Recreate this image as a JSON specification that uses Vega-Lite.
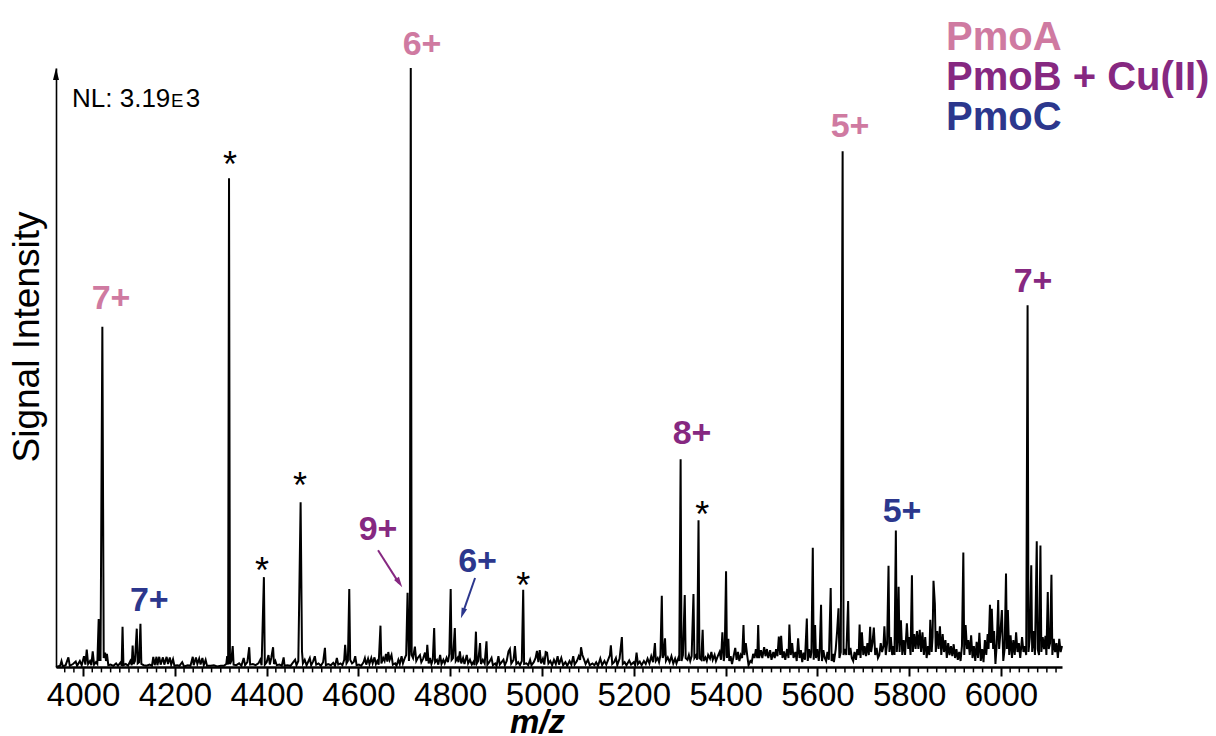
{
  "$schema": "https://vega.github.io/schema/vega-lite/v6.json",
  "width": 1006,
  "height": 599,
  "autosize": {"type": "none"},
  "padding": {"left": 56, "top": 68, "right": 154, "bottom": 69},
  "background": "white",
  "config": {
    "view": {"stroke": null},
    "font": "Liberation Sans",
    "axisY": {
      "titleFontSize": 37,
      "titleFontWeight": "normal",
      "titleColor": "black",
      "titleX": -17.5,
      "titleY": 268.5,
      "titleAngle": -90,
      "titleAlign": "center",
      "titleBaseline": "alphabetic",
      "ticks": false,
      "labels": false,
      "grid": false,
      "domainColor": "black",
      "domainWidth": 1.6
    }
  },
  "datasets": {
    "spectrum": [
      {"mz":3941,"i":0},{"mz":3950,"i":0.2},{"mz":3953,"i":1.0},{"mz":3956,"i":0.1},{"mz":3962,"i":0.3},{"mz":3968,"i":1.6},{"mz":3971,"i":0.2},{"mz":3978,"i":0.5},{"mz":3984,"i":0.9},{"mz":3987,"i":0.2},{"mz":3993,"i":1.0},{"mz":3997,"i":0.3},
      {"mz":4002,"i":1.8},{"mz":4005,"i":0.4},{"mz":4008,"i":2.9},{"mz":4011,"i":0.5},{"mz":4015,"i":1.0},{"mz":4018,"i":0.3},{"mz":4021,"i":2.6},{"mz":4024,"i":0.4},{"mz":4028,"i":0.8},{"mz":4031,"i":0.5},{"mz":4034,"i":8.0},{"mz":4035,"i":1.0},{"mz":4036,"i":7.0},{"mz":4038,"i":1.0},{"mz":4042,"i":56.8},{"mz":4045,"i":1.5},{"mz":4048,"i":2.4},{"mz":4050,"i":1.0},{"mz":4052,"i":2.2},{"mz":4055,"i":0.3},{"mz":4060,"i":0.4},{"mz":4066,"i":0.2},{"mz":4072,"i":0.6},{"mz":4076,"i":0.2},{"mz":4082,"i":0.8},{"mz":4084,"i":0.2},{"mz":4086,"i":6.7},{"mz":4088,"i":0.3},{"mz":4093,"i":0.5},{"mz":4098,"i":0.2},
      {"mz":4103,"i":1.0},{"mz":4106,"i":0.3},{"mz":4108,"i":3.6},{"mz":4110,"i":0.5},{"mz":4113,"i":1.0},{"mz":4117,"i":6.4},{"mz":4119,"i":0.6},{"mz":4122,"i":0.8},{"mz":4125,"i":7.2},{"mz":4127,"i":0.5},{"mz":4132,"i":0.3},{"mz":4138,"i":0.2},{"mz":4145,"i":0.4},{"mz":4150,"i":0.2},{"mz":4153,"i":1.7},{"mz":4156,"i":0.3},{"mz":4160,"i":1.7},{"mz":4162,"i":0.3},{"mz":4166,"i":1.7},{"mz":4169,"i":0.4},{"mz":4174,"i":1.6},{"mz":4177,"i":0.4},{"mz":4182,"i":1.7},{"mz":4185,"i":0.5},{"mz":4189,"i":1.6},{"mz":4192,"i":0.4},{"mz":4196,"i":1.3},{"mz":4199,"i":0.2},
      {"mz":4205,"i":0.3},{"mz":4210,"i":0.2},{"mz":4216,"i":0.8},{"mz":4220,"i":0.1},{"mz":4228,"i":0.3},{"mz":4234,"i":0.2},{"mz":4239,"i":1.7},{"mz":4241,"i":0.3},{"mz":4246,"i":1.6},{"mz":4249,"i":0.5},{"mz":4253,"i":1.4},{"mz":4256,"i":0.4},{"mz":4260,"i":1.5},{"mz":4263,"i":0.3},{"mz":4267,"i":1.2},{"mz":4270,"i":0.2},{"mz":4278,"i":0.2},{"mz":4285,"i":0.3},{"mz":4292,"i":0.1},
      {"mz":4300,"i":0.2},{"mz":4307,"i":0.2},{"mz":4312,"i":0.5},{"mz":4314,"i":1.8},{"mz":4316,"i":0.4},{"mz":4318,"i":81.6},{"mz":4320,"i":0.5},{"mz":4323,"i":1.0},{"mz":4326,"i":3.5},{"mz":4328,"i":0.4},{"mz":4334,"i":0.3},{"mz":4340,"i":0.6},{"mz":4345,"i":0.2},{"mz":4350,"i":1.5},{"mz":4353,"i":0.3},{"mz":4358,"i":0.8},{"mz":4362,"i":3.3},{"mz":4364,"i":0.4},{"mz":4370,"i":0.5},{"mz":4376,"i":0.3},{"mz":4382,"i":0.6},{"mz":4386,"i":1.2},{"mz":4389,"i":0.3},{"mz":4394,"i":15.0},{"mz":4396,"i":0.4},
      {"mz":4400,"i":0.8},{"mz":4404,"i":2.0},{"mz":4407,"i":0.4},{"mz":4410,"i":1.5},{"mz":4414,"i":3.3},{"mz":4416,"i":0.5},{"mz":4419,"i":1.0},{"mz":4422,"i":0.3},{"mz":4428,"i":0.4},{"mz":4433,"i":0.2},{"mz":4437,"i":1.6},{"mz":4439,"i":0.2},{"mz":4445,"i":0.3},{"mz":4452,"i":0.2},{"mz":4458,"i":0.8},{"mz":4462,"i":1.2},{"mz":4465,"i":0.3},{"mz":4469,"i":1.0},{"mz":4474,"i":27.5},{"mz":4477,"i":2.6},{"mz":4479,"i":0.6},{"mz":4483,"i":1.2},{"mz":4487,"i":0.3},{"mz":4490,"i":0.8},{"mz":4494,"i":1.5},{"mz":4497,"i":0.3},
      {"mz":4501,"i":0.9},{"mz":4505,"i":1.8},{"mz":4508,"i":0.4},{"mz":4513,"i":0.6},{"mz":4518,"i":0.2},{"mz":4523,"i":0.8},{"mz":4527,"i":3.2},{"mz":4529,"i":0.3},{"mz":4534,"i":0.5},{"mz":4540,"i":0.3},{"mz":4545,"i":0.7},{"mz":4549,"i":0.2},{"mz":4553,"i":1.5},{"mz":4556,"i":0.4},{"mz":4561,"i":0.6},{"mz":4565,"i":0.3},{"mz":4569,"i":1.2},{"mz":4571,"i":3.7},{"mz":4574,"i":0.6},{"mz":4577,"i":1.0},{"mz":4580,"i":13.0},{"mz":4582,"i":1.2},{"mz":4586,"i":0.6},{"mz":4590,"i":0.9},{"mz":4593,"i":1.8},{"mz":4596,"i":0.3},
      {"mz":4601,"i":0.4},{"mz":4606,"i":0.2},{"mz":4611,"i":0.8},{"mz":4614,"i":1.5},{"mz":4617,"i":0.4},{"mz":4621,"i":1.4},{"mz":4624,"i":0.5},{"mz":4628,"i":1.5},{"mz":4631,"i":0.6},{"mz":4635,"i":1.6},{"mz":4638,"i":0.5},{"mz":4641,"i":1.0},{"mz":4644,"i":0.4},{"mz":4648,"i":6.9},{"mz":4650,"i":0.6},{"mz":4654,"i":1.5},{"mz":4657,"i":1.0},{"mz":4660,"i":2.2},{"mz":4663,"i":0.9},{"mz":4665,"i":2.5},{"mz":4668,"i":1.2},{"mz":4672,"i":2.0},{"mz":4675,"i":0.4},{"mz":4680,"i":0.6},{"mz":4683,"i":0.2},{"mz":4687,"i":1.2},{"mz":4690,"i":0.5},{"mz":4694,"i":1.8},{"mz":4697,"i":0.6},
      {"mz":4701,"i":1.5},{"mz":4704,"i":2.0},{"mz":4707,"i":12.4},{"mz":4710,"i":1.0},{"mz":4712,"i":3.0},{"mz":4714,"i":100},{"mz":4716,"i":2.0},{"mz":4719,"i":1.5},{"mz":4723,"i":3.4},{"mz":4726,"i":1.0},{"mz":4730,"i":1.6},{"mz":4734,"i":2.0},{"mz":4737,"i":0.8},{"mz":4741,"i":1.4},{"mz":4745,"i":2.4},{"mz":4748,"i":1.0},{"mz":4750,"i":3.7},{"mz":4753,"i":0.6},{"mz":4756,"i":1.5},{"mz":4759,"i":0.5},{"mz":4762,"i":1.2},{"mz":4765,"i":6.5},{"mz":4767,"i":0.8},{"mz":4771,"i":1.2},{"mz":4774,"i":0.4},{"mz":4778,"i":2.0},{"mz":4781,"i":0.5},{"mz":4785,"i":1.2},{"mz":4788,"i":0.6},{"mz":4792,"i":1.5},{"mz":4795,"i":0.8},{"mz":4798,"i":2.2},
      {"mz":4801,"i":13.0},{"mz":4803,"i":1.2},{"mz":4806,"i":1.5},{"mz":4810,"i":6.5},{"mz":4812,"i":1.0},{"mz":4816,"i":1.5},{"mz":4818,"i":0.8},{"mz":4821,"i":2.6},{"mz":4824,"i":0.6},{"mz":4828,"i":1.5},{"mz":4831,"i":0.5},{"mz":4836,"i":2.0},{"mz":4839,"i":0.6},{"mz":4843,"i":1.2},{"mz":4847,"i":0.4},{"mz":4851,"i":0.9},{"mz":4853,"i":0.3},{"mz":4856,"i":5.9},{"mz":4858,"i":0.6},{"mz":4861,"i":1.0},{"mz":4865,"i":4.0},{"mz":4867,"i":0.5},{"mz":4871,"i":1.2},{"mz":4875,"i":0.6},{"mz":4879,"i":4.3},{"mz":4881,"i":0.4},{"mz":4885,"i":0.8},{"mz":4890,"i":1.5},{"mz":4893,"i":0.3},{"mz":4898,"i":0.6},
      {"mz":4901,"i":0.2},{"mz":4905,"i":1.8},{"mz":4908,"i":0.4},{"mz":4912,"i":0.8},{"mz":4916,"i":1.2},{"mz":4919,"i":0.3},{"mz":4923,"i":1.0},{"mz":4927,"i":2.6},{"mz":4930,"i":3.0},{"mz":4933,"i":0.6},{"mz":4938,"i":1.2},{"mz":4941,"i":3.5},{"mz":4944,"i":0.5},{"mz":4948,"i":0.8},{"mz":4952,"i":0.3},{"mz":4956,"i":1.0},{"mz":4959,"i":12.9},{"mz":4961,"i":0.5},{"mz":4966,"i":0.6},{"mz":4970,"i":0.3},{"mz":4974,"i":1.2},{"mz":4977,"i":0.3},{"mz":4982,"i":0.8},{"mz":4986,"i":1.5},{"mz":4989,"i":2.7},{"mz":4992,"i":0.8},{"mz":4995,"i":2.8},{"mz":4998,"i":0.6},
      {"mz":5002,"i":1.4},{"mz":5005,"i":0.4},{"mz":5008,"i":2.5},{"mz":5011,"i":2.4},{"mz":5014,"i":0.6},{"mz":5018,"i":1.0},{"mz":5022,"i":0.3},{"mz":5026,"i":1.2},{"mz":5030,"i":0.5},{"mz":5034,"i":1.8},{"mz":5037,"i":0.4},{"mz":5042,"i":1.5},{"mz":5046,"i":0.3},{"mz":5051,"i":0.8},{"mz":5055,"i":0.2},{"mz":5060,"i":1.0},{"mz":5064,"i":0.4},{"mz":5068,"i":1.8},{"mz":5071,"i":0.4},{"mz":5076,"i":1.0},{"mz":5080,"i":1.8},{"mz":5083,"i":1.2},{"mz":5085,"i":3.3},{"mz":5088,"i":2.0},{"mz":5091,"i":1.4},{"mz":5095,"i":0.5},
      {"mz":5100,"i":1.2},{"mz":5104,"i":0.3},{"mz":5110,"i":0.6},{"mz":5114,"i":0.3},{"mz":5118,"i":0.8},{"mz":5122,"i":0.2},{"mz":5127,"i":1.4},{"mz":5131,"i":0.3},{"mz":5136,"i":1.0},{"mz":5140,"i":0.4},{"mz":5144,"i":1.2},{"mz":5148,"i":2.0},{"mz":5150,"i":3.6},{"mz":5153,"i":0.5},{"mz":5157,"i":0.8},{"mz":5161,"i":1.5},{"mz":5164,"i":0.3},{"mz":5169,"i":1.4},{"mz":5174,"i":5.0},{"mz":5176,"i":0.5},{"mz":5180,"i":0.8},{"mz":5184,"i":0.3},{"mz":5190,"i":1.1},{"mz":5194,"i":0.4},
      {"mz":5200,"i":0.8},{"mz":5203,"i":0.3},{"mz":5206,"i":2.4},{"mz":5209,"i":0.5},{"mz":5213,"i":0.9},{"mz":5217,"i":0.3},{"mz":5222,"i":1.0},{"mz":5226,"i":0.5},{"mz":5230,"i":1.4},{"mz":5234,"i":0.6},{"mz":5238,"i":1.8},{"mz":5242,"i":0.8},{"mz":5246,"i":4.0},{"mz":5248,"i":1.0},{"mz":5252,"i":1.5},{"mz":5255,"i":0.8},{"mz":5258,"i":2.0},{"mz":5261,"i":11.9},{"mz":5263,"i":1.5},{"mz":5265,"i":2.0},{"mz":5268,"i":4.8},{"mz":5270,"i":1.0},{"mz":5274,"i":1.6},{"mz":5278,"i":0.8},{"mz":5282,"i":1.8},{"mz":5286,"i":0.6},{"mz":5290,"i":1.4},{"mz":5293,"i":0.6},{"mz":5297,"i":1.5},{"mz":5299,"i":1.0},
      {"mz":5302,"i":34.7},{"mz":5304,"i":1.0},{"mz":5307,"i":2.0},{"mz":5311,"i":12.0},{"mz":5313,"i":1.5},{"mz":5317,"i":1.2},{"mz":5320,"i":2.0},{"mz":5323,"i":1.0},{"mz":5326,"i":1.8},{"mz":5330,"i":12.2},{"mz":5332,"i":1.5},{"mz":5336,"i":2.0},{"mz":5338,"i":1.2},{"mz":5341,"i":24.5},{"mz":5343,"i":1.5},{"mz":5347,"i":1.2},{"mz":5350,"i":6.2},{"mz":5352,"i":1.0},{"mz":5356,"i":1.6},{"mz":5359,"i":1.0},{"mz":5362,"i":2.0},{"mz":5366,"i":1.4},{"mz":5369,"i":2.5},{"mz":5372,"i":1.2},{"mz":5376,"i":2.0},{"mz":5379,"i":1.0},{"mz":5383,"i":1.8},{"mz":5387,"i":2.5},{"mz":5390,"i":1.2},{"mz":5393,"i":5.8},{"mz":5396,"i":1.0},{"mz":5398,"i":2.0},
      {"mz":5401,"i":16.0},{"mz":5403,"i":1.5},{"mz":5406,"i":4.7},{"mz":5408,"i":1.0},{"mz":5411,"i":1.8},{"mz":5414,"i":0.5},{"mz":5418,"i":2.0},{"mz":5421,"i":3.2},{"mz":5424,"i":1.2},{"mz":5427,"i":2.5},{"mz":5430,"i":1.0},{"mz":5433,"i":2.0},{"mz":5436,"i":1.5},{"mz":5439,"i":7.0},{"mz":5441,"i":2.0},{"mz":5444,"i":4.0},{"mz":5447,"i":2.0},{"mz":5450,"i":0.3},{"mz":5454,"i":1.0},{"mz":5457,"i":0.8},{"mz":5460,"i":2.2},{"mz":5463,"i":1.5},{"mz":5466,"i":3.0},{"mz":5469,"i":1.5},{"mz":5471,"i":7.0},{"mz":5473,"i":1.5},{"mz":5477,"i":2.8},{"mz":5480,"i":1.5},{"mz":5484,"i":3.3},{"mz":5487,"i":1.8},{"mz":5490,"i":3.0},{"mz":5493,"i":1.5},{"mz":5497,"i":2.8},
      {"mz":5500,"i":1.2},{"mz":5504,"i":2.5},{"mz":5507,"i":1.5},{"mz":5510,"i":3.0},{"mz":5513,"i":1.8},{"mz":5516,"i":5.1},{"mz":5519,"i":2.0},{"mz":5521,"i":5.2},{"mz":5524,"i":1.5},{"mz":5527,"i":2.6},{"mz":5530,"i":1.2},{"mz":5534,"i":3.0},{"mz":5537,"i":1.5},{"mz":5539,"i":7.1},{"mz":5542,"i":2.0},{"mz":5545,"i":4.0},{"mz":5548,"i":1.5},{"mz":5552,"i":2.5},{"mz":5555,"i":1.0},{"mz":5558,"i":4.8},{"mz":5561,"i":1.5},{"mz":5564,"i":2.8},{"mz":5567,"i":0.8},{"mz":5570,"i":2.4},{"mz":5573,"i":1.2},{"mz":5577,"i":8.1},{"mz":5579,"i":1.0},{"mz":5582,"i":3.0},{"mz":5585,"i":1.5},{"mz":5587,"i":2.5},{"mz":5590,"i":19.9},{"mz":5592,"i":1.2},{"mz":5595,"i":7.0},{"mz":5597,"i":1.5},
      {"mz":5600,"i":3.0},{"mz":5603,"i":1.0},{"mz":5605,"i":2.5},{"mz":5608,"i":10.4},{"mz":5610,"i":1.0},{"mz":5613,"i":2.8},{"mz":5616,"i":1.5},{"mz":5619,"i":1.0},{"mz":5622,"i":2.5},{"mz":5625,"i":1.2},{"mz":5629,"i":13.2},{"mz":5631,"i":1.0},{"mz":5634,"i":2.2},{"mz":5636,"i":0.8},{"mz":5640,"i":3.0},{"mz":5643,"i":6.0},{"mz":5646,"i":9.8},{"mz":5648,"i":1.5},{"mz":5651,"i":2.5},{"mz":5655,"i":86.1},{"mz":5657,"i":2.0},{"mz":5660,"i":3.0},{"mz":5663,"i":2.0},{"mz":5667,"i":11.0},{"mz":5669,"i":2.0},{"mz":5672,"i":3.2},{"mz":5675,"i":1.5},{"mz":5678,"i":1.0},{"mz":5681,"i":2.5},{"mz":5684,"i":1.2},{"mz":5687,"i":3.0},{"mz":5690,"i":2.0},{"mz":5692,"i":7.1},{"mz":5694,"i":1.5},{"mz":5697,"i":5.8},
      {"mz":5700,"i":2.0},{"mz":5703,"i":3.5},{"mz":5706,"i":1.8},{"mz":5709,"i":4.0},{"mz":5712,"i":2.0},{"mz":5715,"i":6.7},{"mz":5717,"i":2.5},{"mz":5720,"i":4.0},{"mz":5723,"i":6.6},{"mz":5726,"i":2.0},{"mz":5729,"i":3.2},{"mz":5732,"i":1.5},{"mz":5735,"i":2.0},{"mz":5738,"i":4.0},{"mz":5741,"i":2.5},{"mz":5744,"i":3.5},{"mz":5746,"i":6.8},{"mz":5749,"i":2.0},{"mz":5752,"i":4.0},{"mz":5755,"i":16.9},{"mz":5757,"i":2.5},{"mz":5760,"i":5.0},{"mz":5763,"i":2.0},{"mz":5766,"i":3.5},{"mz":5768,"i":2.0},{"mz":5771,"i":22.8},{"mz":5773,"i":2.5},{"mz":5775,"i":5.0},{"mz":5777,"i":13.4},{"mz":5779,"i":2.5},{"mz":5782,"i":7.8},{"mz":5785,"i":2.0},{"mz":5788,"i":4.5},{"mz":5791,"i":2.0},{"mz":5795,"i":7.3},{"mz":5798,"i":3.0},
      {"mz":5800,"i":5.0},{"mz":5803,"i":2.0},{"mz":5806,"i":15.3},{"mz":5808,"i":2.5},{"mz":5811,"i":5.5},{"mz":5814,"i":3.0},{"mz":5817,"i":6.0},{"mz":5820,"i":3.0},{"mz":5823,"i":6.2},{"mz":5826,"i":2.5},{"mz":5829,"i":5.8},{"mz":5832,"i":2.0},{"mz":5835,"i":5.0},{"mz":5838,"i":1.5},{"mz":5841,"i":3.5},{"mz":5844,"i":2.0},{"mz":5846,"i":7.9},{"mz":5849,"i":2.5},{"mz":5851,"i":5.0},{"mz":5853,"i":14.4},{"mz":5856,"i":10.5},{"mz":5858,"i":2.5},{"mz":5861,"i":6.0},{"mz":5864,"i":3.0},{"mz":5867,"i":6.8},{"mz":5870,"i":2.0},{"mz":5873,"i":5.5},{"mz":5876,"i":2.5},{"mz":5879,"i":4.5},{"mz":5882,"i":1.5},{"mz":5885,"i":4.0},{"mz":5888,"i":2.0},{"mz":5891,"i":3.5},{"mz":5894,"i":1.8},{"mz":5897,"i":3.8},
      {"mz":5900,"i":1.5},{"mz":5903,"i":3.0},{"mz":5906,"i":1.2},{"mz":5909,"i":2.5},{"mz":5912,"i":1.0},{"mz":5915,"i":3.5},{"mz":5918,"i":19.1},{"mz":5920,"i":2.0},{"mz":5923,"i":7.0},{"mz":5926,"i":3.0},{"mz":5929,"i":4.5},{"mz":5932,"i":2.0},{"mz":5935,"i":5.3},{"mz":5938,"i":1.5},{"mz":5941,"i":3.5},{"mz":5944,"i":1.0},{"mz":5947,"i":4.2},{"mz":5950,"i":1.5},{"mz":5953,"i":5.7},{"mz":5956,"i":1.0},{"mz":5959,"i":3.0},{"mz":5962,"i":0.8},{"mz":5965,"i":4.5},{"mz":5968,"i":2.0},{"mz":5971,"i":5.5},{"mz":5973,"i":3.0},{"mz":5976,"i":10.4},{"mz":5978,"i":4.0},{"mz":5980,"i":9.7},{"mz":5983,"i":3.0},{"mz":5985,"i":6.0},{"mz":5988,"i":0.5},{"mz":5991,"i":4.0},{"mz":5994,"i":11.2},{"mz":5996,"i":3.0},{"mz":5999,"i":6.0},
      {"mz":6002,"i":9.5},{"mz":6005,"i":1.0},{"mz":6008,"i":3.0},{"mz":6011,"i":15.6},{"mz":6013,"i":3.0},{"mz":6015,"i":9.5},{"mz":6018,"i":2.0},{"mz":6021,"i":5.3},{"mz":6024,"i":1.5},{"mz":6027,"i":4.5},{"mz":6030,"i":2.0},{"mz":6033,"i":5.8},{"mz":6036,"i":2.5},{"mz":6039,"i":4.0},{"mz":6042,"i":1.5},{"mz":6046,"i":5.0},{"mz":6049,"i":2.5},{"mz":6052,"i":3.5},{"mz":6055,"i":2.0},{"mz":6058,"i":60.4},{"mz":6060,"i":2.5},{"mz":6063,"i":5.0},{"mz":6066,"i":17.0},{"mz":6068,"i":2.5},{"mz":6071,"i":6.0},{"mz":6074,"i":2.0},{"mz":6078,"i":21.0},{"mz":6080,"i":3.0},{"mz":6083,"i":2.0},{"mz":6086,"i":20.3},{"mz":6088,"i":2.5},{"mz":6091,"i":5.0},{"mz":6094,"i":3.0},{"mz":6097,"i":5.2},{"mz":6099,"i":2.0},
      {"mz":6102,"i":12.5},{"mz":6104,"i":3.0},{"mz":6107,"i":4.0},{"mz":6110,"i":15.4},{"mz":6112,"i":2.0},{"mz":6115,"i":4.7},{"mz":6118,"i":2.5},{"mz":6121,"i":4.0},{"mz":6124,"i":1.5},{"mz":6127,"i":4.7},{"mz":6130,"i":2.5},{"mz":6133,"i":3.5}
    ],
    "minorTicks": [
      {"t":3960},{"t":3980},{"t":4020},{"t":4040},{"t":4060},{"t":4080},{"t":4100},{"t":4120},{"t":4140},{"t":4160},{"t":4180},
      {"t":4220},{"t":4240},{"t":4260},{"t":4280},{"t":4300},{"t":4320},{"t":4340},{"t":4360},{"t":4380},
      {"t":4420},{"t":4440},{"t":4460},{"t":4480},{"t":4500},{"t":4520},{"t":4540},{"t":4560},{"t":4580},
      {"t":4620},{"t":4640},{"t":4660},{"t":4680},{"t":4700},{"t":4720},{"t":4740},{"t":4760},{"t":4780},
      {"t":4820},{"t":4840},{"t":4860},{"t":4880},{"t":4900},{"t":4920},{"t":4940},{"t":4960},{"t":4980},
      {"t":5020},{"t":5040},{"t":5060},{"t":5080},{"t":5100},{"t":5120},{"t":5140},{"t":5160},{"t":5180},
      {"t":5220},{"t":5240},{"t":5260},{"t":5280},{"t":5300},{"t":5320},{"t":5340},{"t":5360},{"t":5380},
      {"t":5420},{"t":5440},{"t":5460},{"t":5480},{"t":5500},{"t":5520},{"t":5540},{"t":5560},{"t":5580},
      {"t":5620},{"t":5640},{"t":5660},{"t":5680},{"t":5700},{"t":5720},{"t":5740},{"t":5760},{"t":5780},
      {"t":5820},{"t":5840},{"t":5860},{"t":5880},{"t":5900},{"t":5920},{"t":5940},{"t":5960},{"t":5980},
      {"t":6020},{"t":6040},{"t":6060},{"t":6080},{"t":6100},{"t":6120}
    ],
    "charges": [
      {"mz":4061,"i":59.8,"text":"7+","series":"PmoA"},
      {"mz":4738.6,"i":102.2,"text":"6+","series":"PmoA"},
      {"mz":5671.2,"i":88.5,"text":"5+","series":"PmoA"},
      {"mz":4642.7,"i":21.2,"text":"9+","series":"PmoB + Cu(II)"},
      {"mz":5326.9,"i":37.2,"text":"8+","series":"PmoB + Cu(II)"},
      {"mz":6070,"i":62.6,"text":"7+","series":"PmoB + Cu(II)"},
      {"mz":4144.3,"i":9.3,"text":"7+","series":"PmoC"},
      {"mz":4859.5,"i":15.9,"text":"6+","series":"PmoC"},
      {"mz":5784.5,"i":24.2,"text":"5+","series":"PmoC"}
    ],
    "stars": [
      {"mz":4320.2,"i":81.8},
      {"mz":4390,"i":14.0},
      {"mz":4472.7,"i":28.2},
      {"mz":4959.3,"i":11.5},
      {"mz":5349.4,"i":23.4}
    ],
    "legendText": [
      {"mz":5880.4,"i":103.0,"text":"PmoA","series":"PmoA"},
      {"mz":5880.4,"i":96.3,"text":"PmoB + Cu(II)","series":"PmoB + Cu(II)"},
      {"mz":5880.4,"i":89.6,"text":"PmoC","series":"PmoC"}
    ],
    "nlBig": [
      {"mz":3975.9,"i":93.5,"text":"NL: 3.19"},
      {"mz":4223.6,"i":93.5,"text":"3"}
    ],
    "nlSmall": [
      {"mz":4191.6,"i":93.5,"text":"E"}
    ],
    "arrows": [
      {"mz":4642.7,"i":19.5,"mz2":4688.4,"i2":14.0,"series":"PmoB + Cu(II)"},
      {"mz":4854.1,"i":14.86,"mz2":4827.1,"i2":8.96,"series":"PmoC"}
    ],
    "headPurple": [{"mz":4689.1,"i":14.06,"series":"PmoB + Cu(II)"}],
    "headBlue": [{"mz":4827.1,"i":8.96,"series":"PmoC"}],
    "yArrow": [{"mz":3941,"i":99.0}]
  },
  "layer": [
    {
      "data": {"name": "spectrum"},
      "mark": {"type": "line", "color": "black", "strokeWidth": 2, "strokeJoin": "miter", "strokeMiterLimit": 4},
      "encoding": {
        "x": {
          "field": "mz", "type": "quantitative",
          "scale": {"domain": [3941, 6133], "nice": false, "zero": false},
          "axis": {
            "orient": "bottom",
            "values": [4000, 4200, 4400, 4600, 4800, 5000, 5200, 5400, 5600, 5800, 6000],
            "format": "d",
            "title": "m/z",
            "titleFontStyle": "italic",
            "titleFontWeight": "bold",
            "titleFontSize": 33,
            "titleColor": "black",
            "titleX": 481,
            "titleY": 65,
            "titleAlign": "center",
            "titleBaseline": "alphabetic",
            "grid": false,
            "domainColor": "black",
            "domainWidth": 2.5,
            "tickColor": "black",
            "tickWidth": 2,
            "tickSize": 9,
            "labelFontSize": 33,
            "labelColor": "black",
            "labelPadding": 3.6,
            "labelFlush": false,
            "labelOverlap": false
          }
        },
        "y": {
          "field": "i", "type": "quantitative",
          "title": "Signal Intensity",
          "scale": {"domain": [0, 100], "nice": false, "zero": true}
        }
      }
    },
    {
      "data": {"name": "minorTicks"},
      "mark": {"type": "rule", "color": "black", "strokeWidth": 1.5},
      "encoding": {
        "x": {"field": "t", "type": "quantitative"},
        "y": {"datum": 0, "type": "quantitative"},
        "y2": {"datum": -0.9}
      }
    },
    {
      "data": {"name": "stars"},
      "mark": {"type": "text", "text": "*", "fontSize": 36, "color": "black", "align": "center", "baseline": "alphabetic"},
      "encoding": {
        "x": {"field": "mz", "type": "quantitative"},
        "y": {"field": "i", "type": "quantitative"}
      }
    },
    {
      "data": {"name": "charges"},
      "mark": {"type": "text", "fontSize": 34, "fontWeight": "bold", "align": "center", "baseline": "alphabetic"},
      "encoding": {
        "x": {"field": "mz", "type": "quantitative"},
        "y": {"field": "i", "type": "quantitative"},
        "text": {"field": "text"},
        "color": {"field": "series", "type": "nominal", "legend": null,
          "scale": {"domain": ["PmoA", "PmoB + Cu(II)", "PmoC"], "range": ["#cf7aa1", "#862881", "#2c378d"]}}
      }
    },
    {
      "data": {"name": "legendText"},
      "mark": {"type": "text", "fontSize": 40, "fontWeight": "bold", "align": "left", "baseline": "alphabetic"},
      "encoding": {
        "x": {"field": "mz", "type": "quantitative"},
        "y": {"field": "i", "type": "quantitative"},
        "text": {"field": "text"},
        "color": {"field": "series", "type": "nominal", "legend": null}
      }
    },
    {
      "data": {"name": "nlBig"},
      "mark": {"type": "text", "fontSize": 26, "color": "black", "align": "left", "baseline": "alphabetic"},
      "encoding": {
        "x": {"field": "mz", "type": "quantitative"},
        "y": {"field": "i", "type": "quantitative"},
        "text": {"field": "text"}
      }
    },
    {
      "data": {"name": "nlSmall"},
      "mark": {"type": "text", "fontSize": 18.6, "color": "black", "align": "left", "baseline": "alphabetic"},
      "encoding": {
        "x": {"field": "mz", "type": "quantitative"},
        "y": {"field": "i", "type": "quantitative"},
        "text": {"field": "text"}
      }
    },
    {
      "data": {"name": "arrows"},
      "mark": {"type": "rule", "strokeWidth": 2},
      "encoding": {
        "x": {"field": "mz", "type": "quantitative"},
        "y": {"field": "i", "type": "quantitative"},
        "x2": {"field": "mz2"},
        "y2": {"field": "i2"},
        "color": {"field": "series", "type": "nominal", "legend": null}
      }
    },
    {
      "data": {"name": "headPurple"},
      "mark": {"type": "point", "shape": "M0,-1L0.55,1L-0.55,1Z", "size": 110, "filled": true, "opacity": 1, "angle": 147},
      "encoding": {
        "x": {"field": "mz", "type": "quantitative"},
        "y": {"field": "i", "type": "quantitative"},
        "color": {"field": "series", "type": "nominal", "legend": null}
      }
    },
    {
      "data": {"name": "headBlue"},
      "mark": {"type": "point", "shape": "M0,-1L0.55,1L-0.55,1Z", "size": 110, "filled": true, "opacity": 1, "angle": 199},
      "encoding": {
        "x": {"field": "mz", "type": "quantitative"},
        "y": {"field": "i", "type": "quantitative"},
        "color": {"field": "series", "type": "nominal", "legend": null}
      }
    },
    {
      "data": {"name": "yArrow"},
      "mark": {"type": "point", "shape": "M0,-1L0.5,1L-0.5,1Z", "size": 144, "filled": true, "opacity": 1, "color": "black"},
      "encoding": {
        "x": {"field": "mz", "type": "quantitative"},
        "y": {"field": "i", "type": "quantitative"}
      }
    }
  ]
}
